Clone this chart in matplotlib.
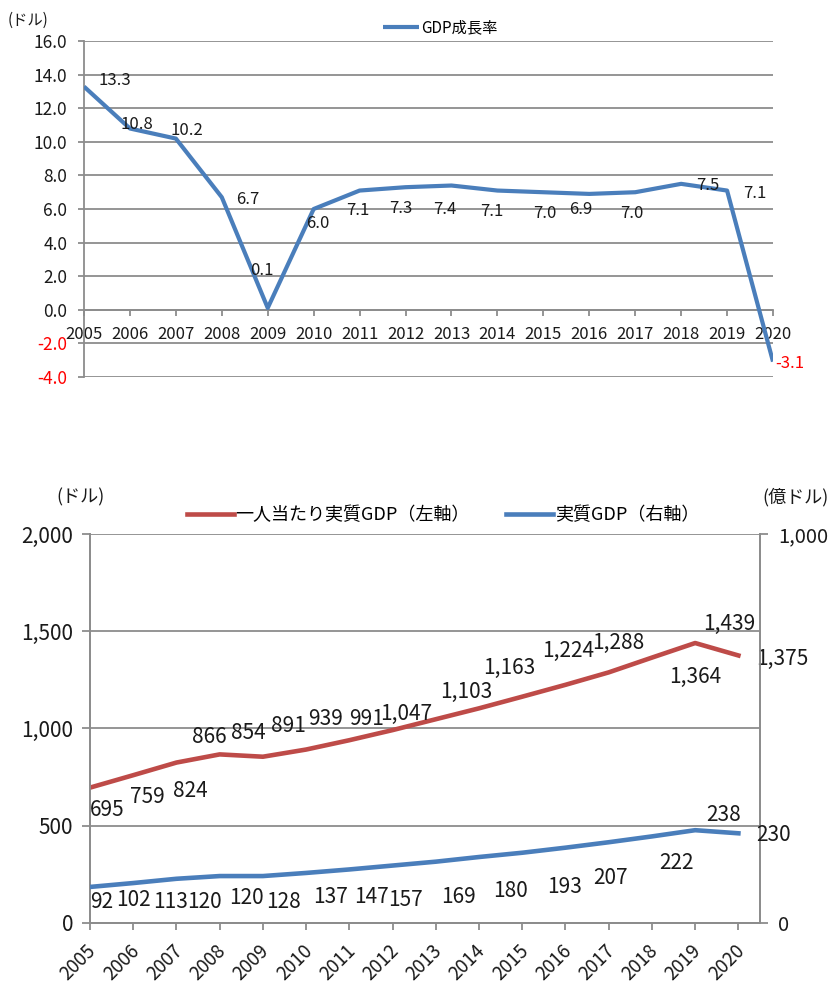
import matplotlib
matplotlib.use("Agg")
import matplotlib.pyplot as plt
from matplotlib.ticker import FuncFormatter
from matplotlib.transforms import ScaledTranslation

plt.rcParams['font.family'] = ['Noto Sans CJK JP', 'DejaVu Sans']

# ---- data ----
years = [2005, 2006, 2007, 2008, 2009, 2010, 2011, 2012, 2013, 2014, 2015,
         2016, 2017, 2018, 2019, 2020]
growth_rate = [13.3, 10.8, 10.2, 6.7, 0.1, 6.0, 7.1, 7.3, 7.4, 7.1, 7.0,
               6.9, 7.0, 7.5, 7.1, -3.1]
gdp_per_capita = [695, 759, 824, 866, 854, 891, 939, 991, 1047, 1103, 1163,
                  1224, 1288, 1364, 1439, 1375]
real_gdp = [92, 102, 113, 120, 120, 128, 137, 147, 157, 169, 180,
            193, 207, 222, 238, 230]

top_yticks = [-4, -2, 0, 2, 4, 6, 8, 10, 12, 14, 16]
left_yticks = [0, 500, 1000, 1500, 2000]
right_yticks = [0, 1000]

# label offsets in pixels (dx right, dy down)
growth_offsets = [(31, -6), (7, -4), (11, -8), (26, 2), (-6, -37), (4, 15),
                  (-2, 20), (-5, 21), (-7, 24), (-6, 21), (1, 21), (-9, 16),
                  (-3, 21), (27, 2), (28, 3), (17, 2)]
per_capita_offsets = [(17, 22), (14, 22), (14, 28), (-10, -17), (-15, -24),
                      (-18, -24), (-24, -21), (-26, -11), (-30, -5),
                      (-13, -16), (-13, -29), (3, -34), (10, -29), (43, 19),
                      (34, -19), (44, 3)]
real_gdp_offsets = [(12, 15), (0, 17), (-6, 23), (-15, 26), (-16, 22),
                    (-23, 29), (-19, 28), (-21, 31), (-30, 38), (-21, 40),
                    (-12, 38), (-1, 39), (2, 36), (25, 27), (28, -15),
                    (35, 2)]

BLUE = '#4A7EBB'
RED = '#BE4B48'
GRID = '#8C8C8C'
TXT = '#1a1a1a'

W, H = 831, 985
fig = plt.figure(figsize=(W / 100, H / 100), dpi=100)


def box(l, t, r, b):
    return [l / W, 1 - b / H, (r - l) / W, (b - t) / H]


x = list(range(len(years)))

# ---------------- GDP growth rate ----------------
ax1 = fig.add_axes(box(84, 41.3, 773, 376.7))
ax1.plot(x, growth_rate, color=BLUE, lw=3.0, solid_joinstyle='round',
         solid_capstyle='butt', label='GDP成長率', zorder=3)
ax1.set_xlim(0, 15)
ax1.set_ylim(-4, 16)
ax1.set_yticks(top_yticks)
ax1.yaxis.set_major_formatter(FuncFormatter(lambda v, p: f'{v:.1f}'))
ax1.set_xticks(x)
ax1.set_xticklabels([str(y) for y in years])
ax1.grid(axis='y', color=GRID, lw=1.3)
ax1.set_axisbelow(True)
for s in ('top', 'right'):
    ax1.spines[s].set_visible(False)
ax1.spines['bottom'].set_position(('data', 0))
for s in ('bottom', 'left'):
    ax1.spines[s].set_color(GRID)
    ax1.spines[s].set_linewidth(1.3)
ax1.tick_params(axis='x', direction='out', length=4, width=1.3, color=GRID,
                labelsize=12, pad=8, labelcolor=TXT)
ax1.tick_params(axis='y', direction='out', length=4, width=1.3, color=GRID,
                labelsize=12.5, pad=8, labelcolor=TXT)
for lbl, v in zip(ax1.get_yticklabels(), top_yticks):
    if v < 0:
        lbl.set_color('#FF0000')

for xi, v, (dx, dy) in zip(x, growth_rate, growth_offsets):
    ax1.annotate(f'{v:.1f}', (xi, v), xytext=(dx, -dy),
                 textcoords='offset pixels', ha='center', va='center',
                 fontsize=12, color='#FF0000' if v < 0 else TXT, zorder=4)

ax1.legend(loc='center', bbox_to_anchor=(440 / W, 1 - 28 / H),
           bbox_transform=fig.transFigure, frameon=False, fontsize=11,
           handlelength=2.4, handletextpad=0.1, borderpad=0)
fig.text(8 / W, 1 - 20 / H, '(ドル)', fontsize=11, color=TXT,
         ha='left', va='center')

# ---------------- real GDP per capita / real GDP ----------------
ax2 = fig.add_axes(box(90, 534, 760, 922.7))
ax3 = ax2.twinx()
ax2.plot(x, gdp_per_capita, color=RED, lw=3.3, solid_joinstyle='round',
         label='一人当たり実質GDP（左軸）', zorder=3)
ax3.plot(x, real_gdp, color=BLUE, lw=3.3, solid_joinstyle='round',
         label='実質GDP（右軸）', zorder=3)
ax2.set_xlim(0, 15.5)
ax2.set_ylim(0, 2000)
ax3.set_ylim(0, 1000)
ax2.set_yticks(left_yticks)
ax3.set_yticks(right_yticks)
comma = FuncFormatter(lambda v, p: f'{int(v):,}')
ax2.yaxis.set_major_formatter(comma)
ax3.yaxis.set_major_formatter(comma)
ax2.set_xticks(x)
ax2.set_xticklabels([str(y) for y in years], rotation=45, ha='right',
                    va='center', rotation_mode='anchor')
ax2.grid(axis='y', color=GRID, lw=1.3)
ax2.set_axisbelow(True)
for a in (ax2, ax3):
    a.spines['top'].set_visible(False)
    for s in ('left', 'right', 'bottom'):
        a.spines[s].set_color(GRID)
        a.spines[s].set_linewidth(1.3)
ax2.tick_params(axis='x', direction='out', length=5, width=1.3, color=GRID,
                labelsize=13.5, pad=13, labelcolor=TXT)
ax2.tick_params(axis='y', direction='out', length=6, width=1.3, color=GRID,
                labelsize=15, pad=6, labelcolor=TXT)
ax3.tick_params(axis='y', direction='out', length=6, width=1.3, color=GRID,
                labelsize=14.5, pad=7, labelcolor=TXT)
shift = ScaledTranslation(3 / 100, 0, fig.dpi_scale_trans)
for lbl in ax2.get_xticklabels():
    lbl.set_transform(lbl.get_transform() + shift)

for xi, v, (dx, dy) in zip(x, gdp_per_capita, per_capita_offsets):
    ax2.annotate(f'{v:,}', (xi, v), xytext=(dx, -dy),
                 textcoords='offset pixels', ha='center', va='center',
                 fontsize=15, color=TXT, zorder=4)
for xi, v, (dx, dy) in zip(x, real_gdp, real_gdp_offsets):
    ax3.annotate(f'{v:,}', (xi, v), xytext=(dx, -dy),
                 textcoords='offset pixels', ha='center', va='center',
                 fontsize=15, color=TXT, zorder=4)

h2, l2 = ax2.get_legend_handles_labels()
h3, l3 = ax3.get_legend_handles_labels()
ax3.legend(h2 + h3, l2 + l3, loc='center', ncol=2,
           bbox_to_anchor=(443 / W, 1 - 515 / H),
           bbox_transform=fig.transFigure, frameon=False, fontsize=13,
           handlelength=2.6, handletextpad=0.1, columnspacing=2.0,
           borderpad=0)
fig.text(81 / W, 1 - 497 / H, '(ドル)', fontsize=13, color=TXT,
         ha='center', va='center')
fig.text(796 / W, 1 - 497 / H, '(億ドル)', fontsize=13, color=TXT,
         ha='center', va='center')

fig.savefig('out.png', dpi=100)
